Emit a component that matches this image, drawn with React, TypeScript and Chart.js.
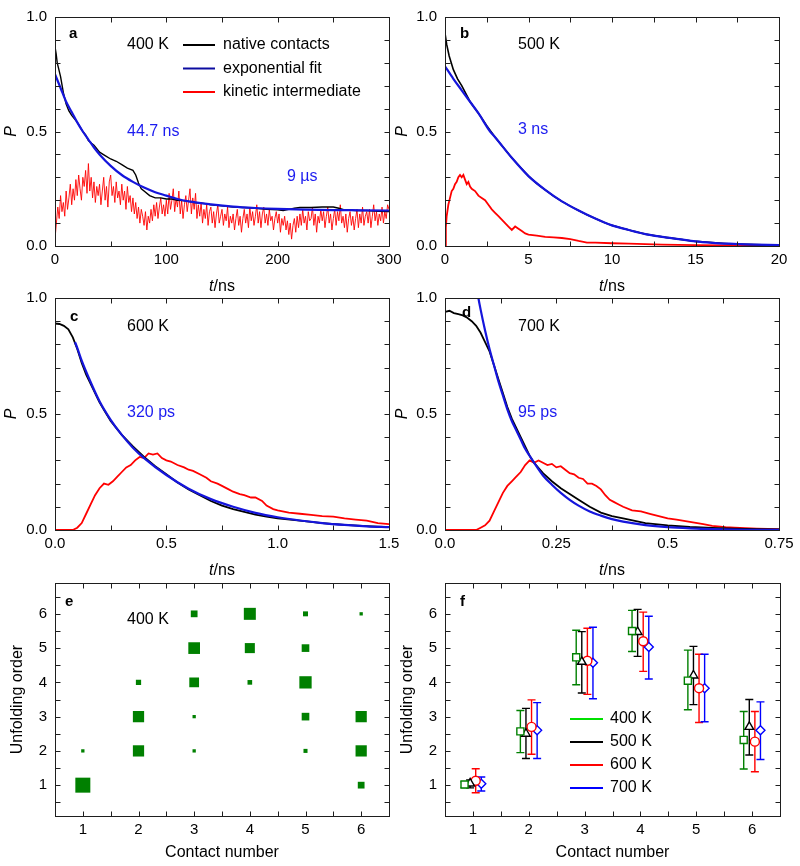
import React, { useEffect, useRef } from "react";
import { Chart, registerables } from "chart.js";

Chart.register(...registerables);

const FONT = "'Liberation Sans', Arial, Helvetica, sans-serif";

// ================= DATA =================
// (a) 400 K
const aBlackT = [0, 1, 2, 3, 5, 7.5, 10, 12.5, 15, 17.5, 20, 22.5, 25, 27.5, 30, 32.5, 35, 37.5, 40, 45, 50, 55, 60, 65, 70, 72.5, 75, 77.5, 80, 85, 90, 95, 100, 105, 110, 115, 120, 125, 130, 135, 140, 145, 150, 160, 170, 180, 190, 200, 205, 210, 215, 220, 230, 240, 250, 255, 260, 270, 280, 290, 300];
const aBlackP = [0.87, 0.84, 0.8, 0.78, 0.74, 0.67, 0.62, 0.59, 0.57, 0.555, 0.54, 0.52, 0.5, 0.485, 0.46, 0.45, 0.44, 0.425, 0.41, 0.395, 0.38, 0.37, 0.355, 0.34, 0.33, 0.31, 0.275, 0.25, 0.24, 0.22, 0.21, 0.21, 0.205, 0.205, 0.2, 0.198, 0.195, 0.19, 0.188, 0.185, 0.18, 0.178, 0.175, 0.17, 0.168, 0.165, 0.16, 0.158, 0.155, 0.16, 0.165, 0.168, 0.168, 0.17, 0.17, 0.165, 0.158, 0.155, 0.155, 0.152, 0.15];
const aBlueT = [0, 5, 10, 15, 20, 25, 30, 35, 40, 50, 60, 70, 80, 90, 100, 110, 120, 140, 160, 180, 200, 225, 250, 275, 300];
const aBlueP = [0.75, 0.69, 0.63, 0.585, 0.54, 0.5, 0.465, 0.43, 0.4, 0.35, 0.31, 0.28, 0.255, 0.235, 0.22, 0.205, 0.195, 0.182, 0.172, 0.166, 0.162, 0.159, 0.157, 0.156, 0.155];
const aRedT = [
  0, 1.25, 2.5, 3.75, 5, 6.25, 7.5, 8.75,
  10, 11.25, 12.5, 13.75, 15, 16.25, 17.5, 18.75,
  20, 21.25, 22.5, 23.75, 25, 26.25, 27.5, 28.75,
  30, 31.25, 32.5, 33.75, 35, 36.25, 37.5, 38.75,
  40, 41.25, 42.5, 43.75, 45, 46.25, 47.5, 48.75,
  50, 51.25, 52.5, 53.75, 55, 56.25, 57.5, 58.75,
  60, 61.25, 62.5, 63.75, 65, 66.25, 67.5, 68.75,
  70, 71.25, 72.5, 73.75, 75, 76.25, 77.5, 78.75,
  80, 81.25, 82.5, 83.75, 85, 86.25, 87.5, 88.75,
  90, 91.25, 92.5, 93.75, 95, 96.25, 97.5, 98.75,
  100, 101.25, 102.5, 103.75, 105, 106.25, 107.5, 108.75,
  110, 111.25, 112.5, 113.75, 115, 116.25, 117.5, 118.75,
  120, 121.25, 122.5, 123.75, 125, 126.25, 127.5, 128.75,
  130, 131.25, 132.5, 133.75, 135, 136.25, 137.5, 138.75,
  140, 141.25, 142.5, 143.75, 145, 146.25, 147.5, 148.75,
  150, 151.25, 152.5, 153.75, 155, 156.25, 157.5, 158.75,
  160, 161.25, 162.5, 163.75, 165, 166.25, 167.5, 168.75,
  170, 171.25, 172.5, 173.75, 175, 176.25, 177.5, 178.75,
  180, 181.25, 182.5, 183.75, 185, 186.25, 187.5, 188.75,
  190, 191.25, 192.5, 193.75, 195, 196.25, 197.5, 198.75,
  200, 201.25, 202.5, 203.75, 205, 206.25, 207.5, 208.75,
  210, 211.25, 212.5, 213.75, 215, 216.25, 217.5, 218.75,
  220, 221.25, 222.5, 223.75, 225, 226.25, 227.5, 228.75,
  230, 231.25, 232.5, 233.75, 235, 236.25, 237.5, 238.75,
  240, 241.25, 242.5, 243.75, 245, 246.25, 247.5, 248.75,
  250, 251.25, 252.5, 253.75, 255, 256.25, 257.5, 258.75,
  260, 261.25, 262.5, 263.75, 265, 266.25, 267.5, 268.75,
  270, 271.25, 272.5, 273.75, 275, 276.25, 277.5, 278.75,
  280, 281.25, 282.5, 283.75, 285, 286.25, 287.5, 288.75,
  290, 291.25, 292.5, 293.75, 295, 296.25, 297.5, 298.75,
  300,
];
const aRedP = [
  0.03, 0.1, 0.17, 0.12, 0.22, 0.15, 0.19, 0.13,
  0.24, 0.16, 0.21, 0.27, 0.18, 0.25, 0.2, 0.29,
  0.22, 0.31, 0.25, 0.2, 0.3, 0.26, 0.33, 0.23,
  0.36, 0.24, 0.3, 0.21, 0.28, 0.19, 0.26, 0.22,
  0.27, 0.18, 0.24, 0.3, 0.2, 0.26, 0.17, 0.28,
  0.31, 0.22, 0.26, 0.19, 0.28, 0.21, 0.24, 0.18,
  0.27, 0.2, 0.24, 0.16, 0.26, 0.19, 0.22, 0.15,
  0.21, 0.14, 0.19, 0.12, 0.17, 0.1, 0.16, 0.13,
  0.09, 0.15, 0.07, 0.13, 0.1, 0.16, 0.11, 0.18,
  0.13, 0.19, 0.12, 0.17, 0.21, 0.14, 0.18, 0.13,
  0.2, 0.14, 0.23, 0.16, 0.2, 0.25, 0.15, 0.21,
  0.17, 0.24, 0.14, 0.2, 0.12, 0.18, 0.22, 0.15,
  0.2, 0.25, 0.14, 0.21, 0.16, 0.23, 0.12, 0.18,
  0.13, 0.19, 0.1, 0.16, 0.12, 0.18, 0.09, 0.15,
  0.17, 0.1, 0.15, 0.08, 0.14, 0.18, 0.1, 0.13,
  0.16, 0.09, 0.14, 0.11, 0.17, 0.08, 0.13, 0.1,
  0.14, 0.07, 0.12, 0.16, 0.09, 0.13, 0.06, 0.12,
  0.16, 0.1, 0.14, 0.08, 0.17, 0.11, 0.15, 0.09,
  0.13, 0.18, 0.1, 0.15, 0.08, 0.14, 0.17, 0.1,
  0.14, 0.09, 0.16, 0.11, 0.13, 0.07, 0.12, 0.15,
  0.1, 0.14, 0.06, 0.12, 0.09, 0.13, 0.07, 0.11,
  0.05, 0.1, 0.03, 0.09, 0.12, 0.06, 0.13, 0.08,
  0.14, 0.09, 0.16, 0.1, 0.13, 0.07, 0.15, 0.11,
  0.12, 0.17, 0.09, 0.14, 0.06, 0.13, 0.1, 0.16,
  0.11, 0.15, 0.08, 0.13, 0.17, 0.1, 0.14, 0.07,
  0.12, 0.16, 0.09, 0.15, 0.11, 0.18, 0.1, 0.13,
  0.08, 0.14, 0.06, 0.12, 0.15, 0.09, 0.13, 0.07,
  0.12, 0.16, 0.08, 0.14, 0.1, 0.17, 0.09, 0.13,
  0.15, 0.1, 0.16, 0.08, 0.13, 0.18, 0.11, 0.15,
  0.09, 0.14, 0.11, 0.17, 0.1, 0.15, 0.12, 0.18,
  0.16,
];

// (b) 500 K
const bBlackT = [0, 0.1, 0.25, 0.5, 0.75, 1, 1.25, 1.5, 2, 2.5, 3, 3.5, 4, 4.5, 5, 5.5, 6, 6.5, 7, 7.5, 8, 8.5, 9, 9.5, 10, 11, 12, 13, 14, 15, 16, 17, 18, 19, 20];
const bBlackP = [0.93, 0.88, 0.83, 0.77, 0.73, 0.7, 0.665, 0.63, 0.58, 0.525, 0.475, 0.43, 0.385, 0.345, 0.305, 0.272, 0.245, 0.218, 0.195, 0.174, 0.155, 0.136, 0.12, 0.104, 0.09, 0.07, 0.052, 0.04, 0.03, 0.02, 0.015, 0.01, 0.007, 0.005, 0.004];
const bBlueT = [0, 0.5, 1, 1.5, 2, 2.7, 3, 4, 5, 6, 7, 8, 9, 10, 11, 12, 13, 14, 15, 16, 17, 18, 20];
const bBlueP = [0.785, 0.73, 0.68, 0.63, 0.58, 0.5, 0.475, 0.385, 0.305, 0.245, 0.195, 0.155, 0.12, 0.09, 0.07, 0.052, 0.04, 0.03, 0.02, 0.014, 0.01, 0.007, 0.004];
const bRedT = [0, 0.05, 0.1, 0.2, 0.3, 0.4, 0.5, 0.6, 0.7, 0.8, 0.9, 1.0, 1.1, 1.2, 1.3, 1.4, 1.5, 1.6, 1.8, 2.0, 2.2, 2.4, 2.6, 2.8, 3.0, 3.2, 3.4, 3.6, 3.8, 4.0, 4.2, 4.4, 4.6, 4.8, 5.0, 5.5, 6.0, 6.5, 7.0, 7.5, 8.0, 8.5, 9, 10, 11, 12, 13, 14, 15, 17, 20];
const bRedP = [0, 0.08, 0.13, 0.18, 0.21, 0.24, 0.25, 0.27, 0.28, 0.3, 0.31, 0.3, 0.31, 0.29, 0.27, 0.28, 0.26, 0.25, 0.24, 0.22, 0.21, 0.2, 0.18, 0.16, 0.145, 0.13, 0.115, 0.1, 0.085, 0.07, 0.085, 0.075, 0.065, 0.055, 0.05, 0.045, 0.04, 0.038, 0.035, 0.03, 0.022, 0.015, 0.015, 0.012, 0.01, 0.008, 0.006, 0.005, 0.004, 0.003, 0.002];

// (c) 600 K
const cBlackT = [0, 0.02, 0.04, 0.06, 0.08, 0.1, 0.12, 0.14, 0.16, 0.18, 0.2, 0.225, 0.25, 0.275, 0.3, 0.35, 0.4, 0.45, 0.5, 0.55, 0.6, 0.65, 0.7, 0.75, 0.8, 0.85, 0.9, 0.95, 1.0, 1.1, 1.2, 1.3, 1.4, 1.5];
const cBlackP = [0.89, 0.888, 0.88, 0.865, 0.83, 0.78, 0.72, 0.67, 0.63, 0.59, 0.55, 0.51, 0.47, 0.44, 0.41, 0.36, 0.315, 0.275, 0.24, 0.205, 0.175, 0.15, 0.125, 0.105, 0.09, 0.078, 0.066, 0.058, 0.05, 0.04, 0.03, 0.022, 0.017, 0.012];
const cBlueT = [0.09, 0.1, 0.12, 0.15, 0.2, 0.25, 0.3, 0.35, 0.4, 0.5, 0.6, 0.7, 0.8, 0.9, 1.0, 1.1, 1.2, 1.3, 1.4, 1.5];
const cBlueP = [0.81, 0.785, 0.73, 0.66, 0.555, 0.475, 0.41, 0.355, 0.31, 0.237, 0.178, 0.133, 0.1, 0.074, 0.055, 0.041, 0.03, 0.022, 0.016, 0.012];
const cRedT = [0, 0.05, 0.08, 0.1, 0.12, 0.14, 0.16, 0.18, 0.2, 0.22, 0.24, 0.26, 0.28, 0.3, 0.32, 0.34, 0.36, 0.38, 0.4, 0.42, 0.44, 0.46, 0.48, 0.5, 0.52, 0.55, 0.58, 0.6, 0.62, 0.65, 0.68, 0.7, 0.73, 0.75, 0.78, 0.8, 0.83, 0.85, 0.88, 0.9, 0.93, 0.95, 0.98, 1.0, 1.05, 1.1, 1.15, 1.2, 1.25, 1.3, 1.35, 1.4, 1.45, 1.5];
const cRedP = [0, 0, 0, 0.01, 0.03, 0.07, 0.11, 0.15, 0.18, 0.2, 0.195, 0.21, 0.23, 0.25, 0.27, 0.28, 0.3, 0.315, 0.31, 0.33, 0.325, 0.33, 0.31, 0.3, 0.295, 0.28, 0.27, 0.26, 0.255, 0.24, 0.225, 0.21, 0.2, 0.19, 0.175, 0.165, 0.155, 0.15, 0.14, 0.14, 0.125, 0.105, 0.09, 0.085, 0.075, 0.07, 0.065, 0.06, 0.058, 0.05, 0.045, 0.04, 0.03, 0.025];

// (d) 700 K
const dBlackT = [0, 0.01, 0.02, 0.03, 0.04, 0.05, 0.06, 0.07, 0.08, 0.09, 0.1, 0.11, 0.12, 0.13, 0.14, 0.15, 0.16, 0.17, 0.18, 0.19, 0.2, 0.22, 0.24, 0.26, 0.28, 0.3, 0.325, 0.35, 0.375, 0.4, 0.45, 0.5, 0.55, 0.6, 0.65, 0.7, 0.75];
const dBlackP = [0.94, 0.945, 0.935, 0.93, 0.925, 0.915, 0.9, 0.88, 0.85, 0.81, 0.77, 0.71, 0.65, 0.59, 0.53, 0.48, 0.44, 0.4, 0.36, 0.32, 0.29, 0.245, 0.21, 0.18, 0.155, 0.13, 0.1, 0.075, 0.06, 0.05, 0.03, 0.02, 0.013, 0.009, 0.006, 0.004, 0.003];
const dBlueT = [0.07, 0.075, 0.08, 0.09, 0.1, 0.11, 0.12, 0.13, 0.14, 0.15, 0.16, 0.17, 0.18, 0.19, 0.2, 0.22, 0.24, 0.26, 0.28, 0.3, 0.325, 0.35, 0.375, 0.4, 0.45, 0.5, 0.55, 0.6, 0.65, 0.7, 0.75];
const dBlueP = [1.06, 1.0, 0.95, 0.86, 0.78, 0.71, 0.64, 0.58, 0.52, 0.47, 0.43, 0.39, 0.35, 0.32, 0.29, 0.235, 0.195, 0.16, 0.13, 0.105, 0.08, 0.062, 0.047, 0.036, 0.021, 0.012, 0.007, 0.004, 0.002, 0.001, 0.001];
const dRedT = [0, 0.05, 0.07, 0.08, 0.09, 0.1, 0.11, 0.12, 0.13, 0.14, 0.15, 0.16, 0.17, 0.18, 0.19, 0.2, 0.21, 0.22, 0.23, 0.24, 0.25, 0.26, 0.27, 0.28, 0.29, 0.3, 0.31, 0.32, 0.33, 0.34, 0.35, 0.36, 0.37, 0.38, 0.39, 0.4, 0.42, 0.44, 0.46, 0.48, 0.5, 0.52, 0.55, 0.58, 0.6, 0.63, 0.65, 0.7, 0.75];
const dRedP = [0, 0, 0, 0.01, 0.02, 0.04, 0.08, 0.12, 0.16, 0.19, 0.21, 0.23, 0.25, 0.28, 0.3, 0.29, 0.3, 0.29, 0.28, 0.285, 0.27, 0.275, 0.26, 0.245, 0.24, 0.225, 0.22, 0.2, 0.2, 0.19, 0.175, 0.15, 0.13, 0.12, 0.11, 0.1, 0.085, 0.08, 0.07, 0.06, 0.05, 0.045, 0.035, 0.025, 0.018, 0.012, 0.01, 0.006, 0.004];

// (e) 400 K unfolding-order map (marker size ~ frequency, relative to largest)
const eContact = [1, 1, 2, 2, 2, 3, 3, 3, 3, 3, 4, 4, 4, 5, 5, 5, 5, 5, 6, 6, 6, 6];
const eOrder = [1, 2, 2, 3, 4, 2, 3, 4, 5, 6, 4, 5, 6, 2, 3, 4, 5, 6, 1, 2, 3, 6];
const eWeight = [1.0, 0.22, 0.75, 0.75, 0.35, 0.22, 0.22, 0.65, 0.78, 0.45, 0.31, 0.67, 0.8, 0.27, 0.51, 0.82, 0.51, 0.33, 0.45, 0.75, 0.75, 0.22];

// (f) mean unfolding order with error bars
const fContact = [1, 2, 3, 4, 5, 6];
const fTemps = ["400 K", "500 K", "600 K", "700 K"];
const f400Mean = [1.02, 2.57, 4.73, 5.5, 4.05, 2.32];
const f400Lo = [0.93, 1.95, 3.93, 4.9, 3.2, 1.47];
const f400Hi = [1.1, 3.18, 5.52, 6.1, 4.94, 3.15];
const f500Mean = [1.05, 2.5, 4.6, 5.47, 4.2, 2.7];
const f500Lo = [0.92, 1.78, 3.69, 4.76, 3.35, 1.88];
const f500Hi = [1.15, 3.24, 5.48, 6.13, 5.05, 3.5];
const f600Mean = [1.13, 2.7, 4.63, 5.2, 3.83, 2.27];
const f600Lo = [0.78, 1.9, 3.65, 4.32, 2.83, 1.39];
const f600Hi = [1.48, 3.49, 5.58, 6.05, 4.82, 3.15];
const f700Mean = [1.04, 2.6, 4.57, 5.03, 3.83, 2.6];
const f700Lo = [0.83, 1.78, 3.52, 4.1, 2.85, 1.75];
const f700Hi = [1.24, 3.41, 5.61, 5.93, 4.82, 3.43];

// ================= STYLE =================
const BLACK = "#000000";
const RED = "#ff0000";
const FIT_BLUE = "#1515dc";
const FIT_LEGEND = "#0c0ca0";
const NOTE_BLUE = "#1c1cf0";
const GREEN_DARK = "#008000";
const GREEN_LEGEND = "#00e000";
const BLUE = "#0000ff";
const FRAME = "#1e1e1e";
const E_MAX_SIDE = 15;
const F_OFFSETS = [-0.15, -0.05, 0.05, 0.15];

const xy = (ts: number[], ps: number[]) => ts.map((t, i) => ({ x: t, y: ps[i] }));

const curve = (label: string, ts: number[], ps: number[], color: string, width: number, smooth = false) => ({
  label,
  data: xy(ts, ps),
  borderColor: color,
  backgroundColor: color,
  borderWidth: width,
  showLine: true,
  pointRadius: 0,
  pointHoverRadius: 0,
  fill: false,
  tension: 0,
  cubicInterpolationMode: smooth ? "monotone" : "default",
});

type Part = { t: string; italic?: boolean };
type Note = { text: string; dx: number; dy: number; color?: string; bold?: boolean };
type Axis = { min: number; max: number; step: number; minor: number; fmt: (v: number) => string };
type Legend = { items: { label: string; color: string }[]; x0: number; x1: number; tx: number; dy0: number; rowH: number };
type Spec = {
  id: string;
  canvas: [number, number, number, number];
  area: [number, number, number, number];
  datasets: any[];
  x: Axis;
  y: Axis;
  xTitle: Part[];
  xTitleDy: number;
  yTitle: Part[];
  yTitleDx: number;
  notes: Note[];
  legend?: Legend;
  err?: { lo: number[][]; hi: number[][] };
};

const T_NS: Part[] = [{ t: "t", italic: true }, { t: "/ns" }];
const P_T: Part[] = [{ t: "P", italic: true }];
const intFmt = (v: number) => (Math.abs(v - Math.round(v)) < 1e-6 ? String(Math.round(v)) : "");
const oneDec = (v: number) => v.toFixed(1);
const pAxis: Axis = { min: 0, max: 1, step: 0.5, minor: 0.1, fmt: oneDec };
const orderAxis: Axis = { min: 0.1, max: 6.9, step: 0.5, minor: 0.5, fmt: intFmt };
const contactAxis: Axis = { min: 0.5, max: 6.5, step: 0.5, minor: 0.5, fmt: intFmt };

const F_SERIES = [
  { label: fTemps[0], mean: f400Mean, lo: f400Lo, hi: f400Hi, color: GREEN_DARK, legend: GREEN_LEGEND, style: "rect", r: 5 },
  { label: fTemps[1], mean: f500Mean, lo: f500Lo, hi: f500Hi, color: BLACK, legend: BLACK, style: "triangle", r: 5 },
  { label: fTemps[2], mean: f600Mean, lo: f600Lo, hi: f600Hi, color: RED, legend: RED, style: "circle", r: 4.5 },
  { label: fTemps[3], mean: f700Mean, lo: f700Lo, hi: f700Hi, color: BLUE, legend: BLUE, style: "rectRot", r: 4.5 },
];

const SPECS: Spec[] = [
  {
    id: "a",
    canvas: [0, 0, 420, 300],
    area: [55, 15, 389, 246],
    datasets: [
      curve("exponential fit", aBlueT, aBlueP, FIT_BLUE, 2.2, true),
      curve("native contacts", aBlackT, aBlackP, BLACK, 1.4),
      curve("kinetic intermediate", aRedT, aRedP, RED, 0.9),
    ],
    x: { min: 0, max: 300, step: 100, minor: 50, fmt: (v) => String(v) },
    y: pAxis,
    xTitle: T_NS,
    xTitleDy: 41,
    yTitle: P_T,
    yTitleDx: -43,
    notes: [
      { text: "a", dx: 14, dy: 17, bold: true },
      { text: "400 K", dx: 72, dy: 28 },
      { text: "44.7 ns", dx: 72, dy: 115, color: NOTE_BLUE },
      { text: "9 µs", dx: 232, dy: 160, color: NOTE_BLUE },
    ],
    legend: {
      items: [
        { label: "native contacts", color: BLACK },
        { label: "exponential fit", color: FIT_LEGEND },
        { label: "kinetic intermediate", color: RED },
      ],
      x0: 128, x1: 160, tx: 168, dy0: 28, rowH: 23.5,
    },
  },
  {
    id: "b",
    canvas: [395, 0, 405, 300],
    area: [445, 15, 779, 246],
    datasets: [
      curve("exponential fit", bBlueT, bBlueP, FIT_BLUE, 2.2, true),
      curve("native contacts", bBlackT, bBlackP, BLACK, 1.6),
      curve("kinetic intermediate", bRedT, bRedP, RED, 1.8),
    ],
    x: { min: 0, max: 20, step: 5, minor: 2.5, fmt: (v) => String(v) },
    y: pAxis,
    xTitle: T_NS,
    xTitleDy: 41,
    yTitle: P_T,
    yTitleDx: -42,
    notes: [
      { text: "b", dx: 15, dy: 17, bold: true },
      { text: "500 K", dx: 73, dy: 28 },
      { text: "3 ns", dx: 73, dy: 113, color: NOTE_BLUE },
    ],
  },
  {
    id: "c",
    canvas: [0, 278, 420, 300],
    area: [55, 298, 389, 530],
    datasets: [
      curve("exponential fit", cBlueT, cBlueP, FIT_BLUE, 2.2, true),
      curve("native contacts", cBlackT, cBlackP, BLACK, 1.8),
      curve("kinetic intermediate", cRedT, cRedP, RED, 1.8),
    ],
    x: { min: 0, max: 1.5, step: 0.5, minor: 0.25, fmt: oneDec },
    y: pAxis,
    xTitle: T_NS,
    xTitleDy: 41,
    yTitle: P_T,
    yTitleDx: -43,
    notes: [
      { text: "c", dx: 15, dy: 19, bold: true },
      { text: "600 K", dx: 72, dy: 29 },
      { text: "320 ps", dx: 72, dy: 115, color: NOTE_BLUE },
    ],
  },
  {
    id: "d",
    canvas: [395, 278, 405, 300],
    area: [445, 298, 779, 530],
    datasets: [
      curve("exponential fit", dBlueT, dBlueP, FIT_BLUE, 2.2, true),
      curve("native contacts", dBlackT, dBlackP, BLACK, 1.8),
      curve("kinetic intermediate", dRedT, dRedP, RED, 1.8),
    ],
    x: { min: 0, max: 0.75, step: 0.25, minor: 0.125, fmt: (v) => (v === 0 ? "0.0" : String(v)) },
    y: pAxis,
    xTitle: T_NS,
    xTitleDy: 41,
    yTitle: P_T,
    yTitleDx: -42,
    notes: [
      { text: "d", dx: 17, dy: 15, bold: true },
      { text: "700 K", dx: 73, dy: 29 },
      { text: "95 ps", dx: 73, dy: 115, color: NOTE_BLUE },
    ],
  },
  {
    id: "e",
    canvas: [0, 563, 420, 303],
    area: [55, 583, 389, 816],
    datasets: [
      {
        label: "400 K",
        data: xy(eContact, eOrder),
        showLine: false,
        pointStyle: "rect",
        pointRadius: eWeight.map((w) => (w * E_MAX_SIDE) / Math.SQRT2),
        pointHoverRadius: eWeight.map((w) => (w * E_MAX_SIDE) / Math.SQRT2),
        pointBackgroundColor: GREEN_DARK,
        backgroundColor: GREEN_DARK,
        borderColor: GREEN_DARK,
        pointBorderWidth: 0,
        borderWidth: 0,
      },
    ],
    x: contactAxis,
    y: orderAxis,
    xTitle: [{ t: "Contact number" }],
    xTitleDy: 37,
    yTitle: [{ t: "Unfolding order" }],
    yTitleDx: -37,
    notes: [
      { text: "e", dx: 10, dy: 19, bold: true },
      { text: "400 K", dx: 72, dy: 37 },
    ],
  },
  {
    id: "f",
    canvas: [395, 563, 405, 303],
    area: [445, 583, 780, 816],
    datasets: F_SERIES.map((s, i) => ({
      label: s.label,
      data: fContact.map((c, j) => ({ x: c + F_OFFSETS[i], y: s.mean[j] })),
      showLine: false,
      pointStyle: s.style,
      pointRadius: s.r,
      pointHoverRadius: s.r,
      pointBackgroundColor: "#ffffff",
      pointBorderColor: s.color,
      pointBorderWidth: 1.4,
      borderColor: s.color,
      backgroundColor: "#ffffff",
    })),
    x: contactAxis,
    y: orderAxis,
    xTitle: [{ t: "Contact number" }],
    xTitleDy: 37,
    yTitle: [{ t: "Unfolding order" }],
    yTitleDx: -37,
    notes: [{ text: "f", dx: 15, dy: 19, bold: true }],
    legend: {
      items: F_SERIES.map((s) => ({ label: s.label, color: s.legend })),
      x0: 125, x1: 158, tx: 165, dy0: 136, rowH: 23,
    },
    err: { lo: F_SERIES.map((s) => s.lo), hi: F_SERIES.map((s) => s.hi) },
  },
];

function tickValues(min: number, max: number, step: number) {
  const out: number[] = [];
  const start = Math.ceil(min / step - 1e-9);
  for (let i = start; i * step <= max + 1e-9; i++) out.push(i * step);
  return out;
}

function drawParts(ctx: CanvasRenderingContext2D, parts: Part[], cx: number, cy: number, size: number) {
  const fonts = parts.map((p) => `${p.italic ? "italic " : ""}${size}px ${FONT}`);
  let total = 0;
  const widths = parts.map((p, i) => {
    ctx.font = fonts[i];
    const w = ctx.measureText(p.t).width;
    total += w;
    return w;
  });
  let x = cx - total / 2;
  ctx.textAlign = "left";
  ctx.textBaseline = "middle";
  parts.forEach((p, i) => {
    ctx.font = fonts[i];
    ctx.fillText(p.t, x, cy);
    x += widths[i];
  });
}

function makePlugin(spec: Spec) {
  return {
    id: "panel_" + spec.id,
    beforeDatasetsDraw(chart: any) {
      if (!spec.err) return;
      const { ctx } = chart;
      const xs = chart.scales.x;
      const ys = chart.scales.y;
      ctx.save();
      ctx.lineWidth = 1.4;
      chart.data.datasets.forEach((ds: any, i: number) => {
        ctx.strokeStyle = ds.borderColor;
        ds.data.forEach((pt: any, j: number) => {
          const px = xs.getPixelForValue(pt.x);
          const pLo = ys.getPixelForValue(spec.err!.lo[i][j]);
          const pHi = ys.getPixelForValue(spec.err!.hi[i][j]);
          ctx.beginPath();
          ctx.moveTo(px, pLo);
          ctx.lineTo(px, pHi);
          ctx.moveTo(px - 4, pLo);
          ctx.lineTo(px + 4, pLo);
          ctx.moveTo(px - 4, pHi);
          ctx.lineTo(px + 4, pHi);
          ctx.stroke();
        });
      });
      ctx.restore();
    },
    afterDraw(chart: any) {
      const { ctx, chartArea } = chart;
      const { left, top, right, bottom } = chartArea;
      const xs = chart.scales.x;
      const ys = chart.scales.y;
      ctx.save();
      // frame
      ctx.strokeStyle = FRAME;
      ctx.lineWidth = 1;
      const L = Math.round(left) + 0.5;
      const T = Math.round(top) + 0.5;
      const R = Math.round(right) + 0.5;
      const B = Math.round(bottom) + 0.5;
      ctx.strokeRect(L, T, R - L, B - T);
      // inward ticks on all four sides
      const TL = 5;
      ctx.beginPath();
      tickValues(spec.x.min, spec.x.max, spec.x.minor).forEach((v) => {
        const px = Math.round(xs.getPixelForValue(v)) + 0.5;
        ctx.moveTo(px, B);
        ctx.lineTo(px, B - TL);
        ctx.moveTo(px, T);
        ctx.lineTo(px, T + TL);
      });
      tickValues(spec.y.min, spec.y.max, spec.y.minor).forEach((v) => {
        const py = Math.round(ys.getPixelForValue(v)) + 0.5;
        ctx.moveTo(L, py);
        ctx.lineTo(L + TL, py);
        ctx.moveTo(R, py);
        ctx.lineTo(R - TL, py);
      });
      ctx.stroke();
      // axis titles
      ctx.fillStyle = "#000";
      drawParts(ctx, spec.xTitle, (left + right) / 2, bottom + spec.xTitleDy, 16);
      ctx.save();
      ctx.translate(left + spec.yTitleDx, (top + bottom) / 2);
      ctx.rotate(-Math.PI / 2);
      drawParts(ctx, spec.yTitle, 0, 0, 16);
      ctx.restore();
      // notes
      ctx.textAlign = "left";
      ctx.textBaseline = "middle";
      spec.notes.forEach((n) => {
        ctx.font = `${n.bold ? "bold 15px" : "16px"} ${FONT}`;
        ctx.fillStyle = n.color || "#000";
        ctx.fillText(n.text, left + n.dx, top + n.dy);
      });
      // legend
      if (spec.legend) {
        const lg = spec.legend;
        ctx.font = `16px ${FONT}`;
        lg.items.forEach((it, i) => {
          const y = top + lg.dy0 + i * lg.rowH;
          ctx.strokeStyle = it.color;
          ctx.lineWidth = 2;
          ctx.beginPath();
          ctx.moveTo(left + lg.x0, y);
          ctx.lineTo(left + lg.x1, y);
          ctx.stroke();
          ctx.fillStyle = "#000";
          ctx.fillText(it.label, left + lg.tx, y);
        });
      }
      ctx.restore();
    },
  };
}

function scaleOpts(a: Axis, isX: boolean, size: number) {
  return {
    type: "linear",
    min: a.min,
    max: a.max,
    grid: { display: false, drawTicks: false },
    border: { display: false },
    ticks: {
      stepSize: a.step,
      autoSkip: false,
      includeBounds: false,
      maxRotation: 0,
      minRotation: 0,
      padding: isX ? 5 : 8,
      color: "#000",
      font: { family: FONT, size: 15 },
      callback: (v: any) => a.fmt(Number(v)),
    },
    afterFit: (s: any) => {
      if (isX) s.height = size;
      else s.width = size;
    },
  };
}

function ChartPanel({ spec }: { spec: Spec }) {
  const ref = useRef<HTMLCanvasElement | null>(null);
  const [cx, cy, cw, ch] = spec.canvas;
  const [L, T, R, B] = spec.area;
  useEffect(() => {
    if (!ref.current) return;
    const chart = new Chart(ref.current, {
      type: "scatter",
      data: { datasets: spec.datasets },
      options: {
        responsive: false,
        maintainAspectRatio: false,
        devicePixelRatio: 1,
        animation: false,
        events: [],
        layout: { padding: { left: 0, top: T - cy, right: cx + cw - R, bottom: 0 } },
        plugins: { legend: { display: false }, tooltip: { enabled: false } },
        scales: {
          x: scaleOpts(spec.x, true, cy + ch - B),
          y: scaleOpts(spec.y, false, L - cx),
        },
      } as any,
      plugins: [makePlugin(spec)],
    } as any);
    return () => chart.destroy();
  }, []);
  return (
    <canvas
      ref={ref}
      width={cw}
      height={ch}
      style={{ position: "absolute", left: cx, top: cy, width: cw, height: ch }}
    />
  );
}

export default function App() {
  return (
    <div style={{ position: "absolute", left: 0, top: 0, width: 800, height: 866, background: "#ffffff", overflow: "hidden" }}>
      {SPECS.map((s) => (
        <ChartPanel key={s.id} spec={s} />
      ))}
    </div>
  );
}
